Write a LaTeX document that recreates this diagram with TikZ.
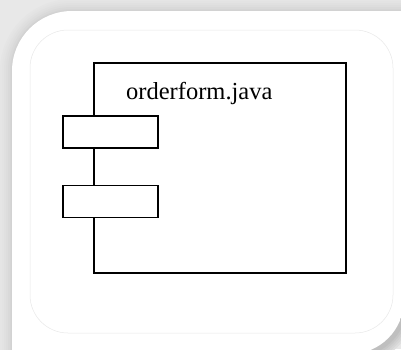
\documentclass[tikz,border=0pt]{standalone}
\usepackage{fontspec}
\setmainfont{Liberation Serif}
\begin{document}
\begin{tikzpicture}[x=1pt,y=-1pt,
  comp/.style={draw=black,line width=1.6pt,fill=white},
  port/.style={draw=black,line width=1.6pt,fill=white,minimum width=95pt,minimum height=32pt,inner sep=0pt,anchor=north west}]
\useasboundingbox (0,0) rectangle (401,349);
\fill[black!9] (0,0) rectangle (401,349);
% glow layers around the panel (darker near its edge)
\foreach \d/\g in {12/10,10/11,8/12,6/13.5,4/15,2/16.5,1/17.5}{
  \begin{scope}
    \clip[rounded corners=54pt+\d pt] (-100,-100) rectangle (404+\d,354+\d);
    \fill[black!\g,rounded corners=60pt+\d pt] (12-\d,11-\d) rectangle (520,520);
  \end{scope}
}
% bottom-right shadow
\foreach \d/\g in {10/13,8/16,6/19,4/22,2/25}{
  \begin{scope}
    \clip (300,280) rectangle (420,380);
    \fill[black!\g,rounded corners=54pt+\d pt] (200,200) rectangle (406+\d,356+\d);
  \end{scope}
}
\begin{scope}
  \clip[rounded corners=54pt] (-100,-100) rectangle (404,354);
  \fill[white,rounded corners=60pt] (12,11) rectangle (520,520);
\end{scope}
\draw[black!9,line width=0.5pt,rounded corners=38pt] (30,30) rectangle (393,333);
% component
\node[comp,minimum width=252pt,minimum height=210pt,inner sep=0pt,anchor=north west] (main) at (93,62) {};
\node[anchor=base west,inner sep=0pt,font=\fontsize{24.5}{26}\selectfont] (lbl) at (126,99.5) {orderform.java};
\node[port] (p1) at (62,115) {};
\node[port] (p2) at (62,184.5) {};
\end{tikzpicture}
\end{document}
